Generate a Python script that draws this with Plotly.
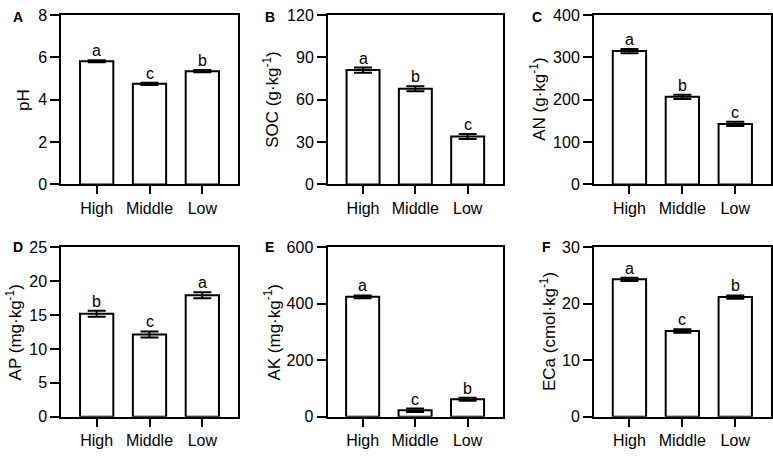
import plotly.graph_objects as go

W, H = 773, 457

categories = ["High", "Middle", "Low"]

ph_vals = [5.82, 4.75, 5.35]
ph_err = [0.05, 0.05, 0.05]
ph_letters = ["a", "c", "b"]

soc_vals = [81.0, 67.8, 34.0]
soc_err = [1.8, 1.8, 1.8]
soc_letters = ["a", "b", "c"]

an_vals = [315, 207, 143]
an_err = [5, 5, 5]
an_letters = ["a", "b", "c"]

ap_vals = [15.2, 12.15, 17.95]
ap_err = [0.45, 0.45, 0.45]
ap_letters = ["b", "c", "a"]

ak_vals = [425, 23, 62]
ak_err = [5, 6, 5]
ak_letters = ["a", "c", "b"]

eca_vals = [24.35, 15.2, 21.2]
eca_err = [0.3, 0.3, 0.3]
eca_letters = ["a", "c", "b"]

panel_labels = ["A", "B", "C", "D", "E", "F"]
y_titles = ["pH", "SOC (g·kg<sup>-1</sup>)", "AN (g·kg<sup>-1</sup>)",
            "AP (mg·kg<sup>-1</sup>)", "AK (mg·kg<sup>-1</sup>)", "ECa (cmol·kg<sup>-1</sup>)"]
y_ranges = [[0, 8], [0, 120], [0, 400], [0, 25], [0, 600], [0, 30]]
y_dticks = [2, 30, 100, 5, 200, 10]

series = [
    (ph_vals, ph_err, ph_letters),
    (soc_vals, soc_err, soc_letters),
    (an_vals, an_err, an_letters),
    (ap_vals, ap_err, ap_letters),
    (ak_vals, ak_err, ak_letters),
    (eca_vals, eca_err, eca_letters),
]

# panel boxes in pixels: (left, right, top, bottom)
boxes = [
    (61.3, 237.7, 7.3, 183.3),
    (328.0, 502.7, 7.3, 183.3),
    (594.0, 770.7, 7.3, 183.3),
    (61.3, 237.7, 248.7, 424.5),
    (327.5, 502.7, 248.7, 424.5),
    (594.0, 770.7, 248.7, 424.5),
]
title_offsets = [38, 57, 56, 47, 55, 46]
letter_pos = [(17.7, 9), (269.7, 9), (536.7, 9), (17.7, 248.5), (269, 248.5), (546, 248.5)]

FONT = "Liberation Sans, Arial, sans-serif"
fig = go.Figure()
layout = dict(
    width=W, height=H, margin=dict(l=0, r=0, t=0, b=0),
    paper_bgcolor="white", plot_bgcolor="white", showlegend=False,
    font=dict(family=FONT, color="black"),
)
annotations = []

for i, ((vals, errs, letters), box) in enumerate(zip(series, boxes)):
    n = i + 1
    xa = "x" if n == 1 else f"x{n}"
    ya = "y" if n == 1 else f"y{n}"
    fig.add_trace(go.Bar(
        x=categories, y=vals, xaxis=xa, yaxis=ya, width=0.63,
        marker=dict(color="white", line=dict(color="black", width=2)),
        error_y=dict(type="data", array=errs, visible=True, color="black", thickness=2, width=9),
        hoverinfo="skip",
    ))
    l, r, t, b = box
    xdom = [l / W, r / W]
    ydom = [1 - b / H, 1 - t / H]
    layout[f"xaxis{'' if n == 1 else n}"] = dict(
        domain=xdom, anchor=ya, range=[-0.67, 2.67], type="category",
        showline=True, linecolor="black", linewidth=2, mirror=True,
        ticks="outside", ticklen=8, tickwidth=2, tickcolor="black",
        tickfont=dict(size=16, family=FONT, color="black"), showgrid=False, zeroline=False,
    )
    layout[f"yaxis{'' if n == 1 else n}"] = dict(
        domain=ydom, anchor=xa, range=y_ranges[i], dtick=y_dticks[i], tick0=0,
        showline=True, linecolor="black", linewidth=2, mirror=True,
        ticks="outside", ticklen=9, tickwidth=2, tickcolor="black",
        tickfont=dict(size=16, family=FONT, color="black"), showgrid=False, zeroline=False,
    )
    for c, v, e, lt in zip(categories, vals, errs, letters):
        annotations.append(dict(
            x=c, y=v + e, xref=xa, yref=ya, text=lt, showarrow=False,
            xanchor="center", yanchor="bottom", yshift=-1,
            font=dict(size=16, family=FONT, color="black"),
        ))
    # y axis title
    annotations.append(dict(
        x=(l - title_offsets[i]) / W, y=1 - (t + b) / 2 / H, xref="paper", yref="paper",
        text=y_titles[i], textangle=-90, showarrow=False,
        xanchor="center", yanchor="middle",
        font=dict(size=17, family=FONT, color="black"),
    ))
    lx, ly = letter_pos[i]
    annotations.append(dict(
        x=lx / W, y=1 - ly / H, xref="paper", yref="paper",
        text=f"<b>{panel_labels[i]}</b>", showarrow=False,
        xanchor="center", yanchor="middle",
        font=dict(size=14, family=FONT, color="black"),
    ))

layout["annotations"] = annotations
fig.update_layout(**layout)
fig.write_html("out.html")
